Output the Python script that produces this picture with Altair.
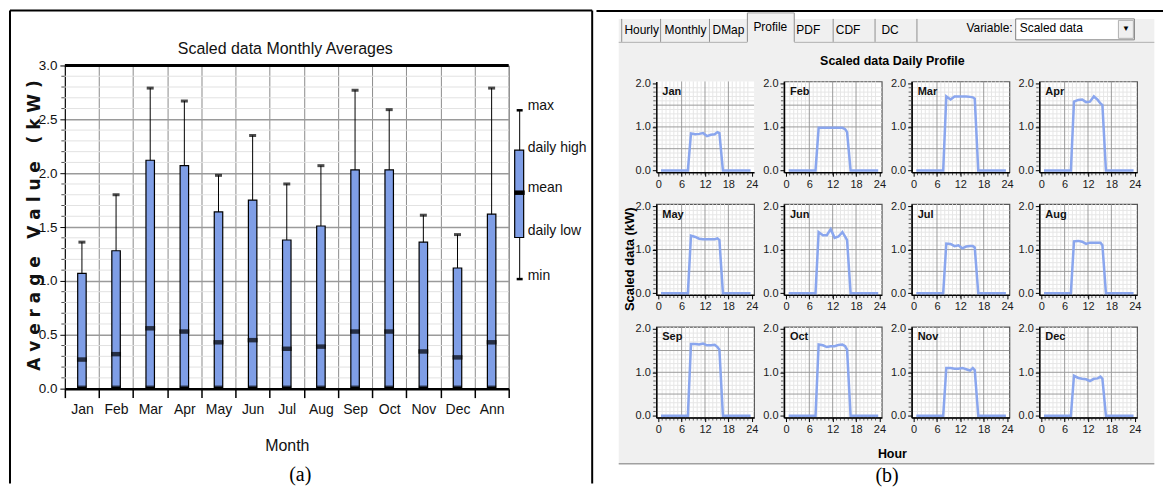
import altair as alt
import pandas as pd

# ---------------- (a) Scaled data Monthly Averages ----------------
months = ["Jan", "Feb", "Mar", "Apr", "May", "Jun", "Jul", "Aug", "Sep", "Oct", "Nov", "Dec", "Ann"]
max_vals = [1.36, 1.80, 2.79, 2.67, 1.98, 2.35, 1.90, 2.07, 2.77, 2.59, 1.61, 1.43, 2.79]
high_vals = [1.07, 1.28, 2.12, 2.07, 1.64, 1.75, 1.38, 1.51, 2.03, 2.03, 1.36, 1.12, 1.62]
mean_vals = [0.27, 0.32, 0.56, 0.53, 0.43, 0.45, 0.37, 0.39, 0.53, 0.53, 0.345, 0.29, 0.43]
low_vals = [0.01] * 13
min_vals = [0.0] * 13

legend_labels = ["max", "daily high", "mean", "daily low", "min"]
legend_label_vals = [2.62, 2.235, 1.865, 1.465, 1.048]
legend_key_vals = [2.584, 2.214, 1.819, 1.403, 1.017]

# ---------------- (b) Scaled data Daily Profile ----------------
profile_months = ["Jan", "Feb", "Mar", "Apr", "May", "Jun", "Jul", "Aug", "Sep", "Oct", "Nov", "Dec"]
profile_hours = [0.7, 7.6, 8.4, 9.5, 10.5, 11.5, 12.5, 13.5, 14.5, 15.2, 15.7, 16.6, 23.7]
profiles = {
    "Jan": [0, 0, 0.85, 0.83, 0.84, 0.86, 0.79, 0.82, 0.83, 0.88, 0.86, 0, 0],
    "Feb": [0, 0, 0.98, 0.98, 0.98, 0.98, 0.98, 0.98, 0.98, 0.95, 0.88, 0, 0],
    "Mar": [0, 0, 1.70, 1.63, 1.70, 1.70, 1.70, 1.70, 1.69, 1.68, 1.65, 0, 0],
    "Apr": [0, 0, 1.58, 1.62, 1.63, 1.57, 1.58, 1.70, 1.62, 1.54, 1.50, 0, 0],
    "May": [0, 0, 1.32, 1.29, 1.25, 1.24, 1.24, 1.24, 1.24, 1.26, 1.22, 0, 0],
    "Jun": [0, 0, 1.40, 1.33, 1.33, 1.47, 1.27, 1.30, 1.40, 1.30, 1.22, 0, 0],
    "Jul": [0, 0, 1.14, 1.13, 1.08, 1.10, 1.03, 1.07, 1.08, 1.08, 1.05, 0, 0],
    "Aug": [0, 0, 1.19, 1.20, 1.18, 1.13, 1.16, 1.16, 1.16, 1.16, 1.10, 0, 0],
    "Sep": [0, 0, 1.65, 1.65, 1.64, 1.66, 1.62, 1.62, 1.63, 1.58, 1.52, 0, 0],
    "Oct": [0, 0, 1.64, 1.62, 1.58, 1.60, 1.60, 1.63, 1.64, 1.60, 1.52, 0, 0],
    "Nov": [0, 0, 1.10, 1.10, 1.08, 1.08, 1.10, 1.07, 1.04, 1.10, 1.05, 0, 0],
    "Dec": [0, 0, 0.92, 0.87, 0.85, 0.84, 0.80, 0.85, 0.86, 0.90, 0.85, 0, 0],
}

tab_labels = ["Hourly", "Monthly", "DMap", "Profile", "PDF", "CDF", "DC"]
variable_label = "Variable:"
variable_value = "Scaled data"

# ---------------- styles ----------------
SANS = "Liberation Sans, Arial, sans-serif"
SERIF = "Liberation Serif, Times New Roman, DejaVu Serif, serif"
BOX_BLUE = "#7f9ee6"
LINE_BLUE = "#8aa6ee"
PANEL_GRAY = "#f0f0f0"
NB = "\u00a0"

one = pd.DataFrame({"k": [0]})


def hrule(x1, x2, y, color="black", w=2.0):
    return alt.Chart(one).mark_rule(color=color, strokeWidth=w).encode(
        x=alt.value(x1), x2=alt.value(x2), y=alt.value(y))


def vrule(x, y1, y2, color="black", w=2.0):
    return alt.Chart(one).mark_rule(color=color, strokeWidth=w).encode(
        x=alt.value(x), y=alt.value(y1), y2=alt.value(y2))


def box(x1, x2, y1, y2, fill, stroke=None, sw=1.0):
    kw = dict(fill=fill, strokeWidth=sw)
    if stroke:
        kw["stroke"] = stroke
    return alt.Chart(one).mark_rect(**kw).encode(
        x=alt.value(x1), x2=alt.value(x2), y=alt.value(y1), y2=alt.value(y2))


def label(x, y, text, font=SANS, size=12, weight="normal", align="center", color="black"):
    return alt.Chart(one).mark_text(text=text, font=font, fontSize=size, fontWeight=weight,
                                    align=align, baseline="middle", color=color).encode(
        x=alt.value(x), y=alt.value(y))


# ================= left chart (a) =================
W, H = 445, 324

df = pd.DataFrame({"month": months, "mx": max_vals, "hi": high_vals, "mean": mean_vals,
                   "lo": low_vals, "mn": min_vals})
yscale = alt.Scale(domain=[0, 3], nice=False, zero=False)
xscale = alt.Scale(type="band", paddingInner=0, paddingOuter=0)
YTITLE = (NB.join("Average") + NB * 3 + NB.join("Value") + NB * 3 + NB.join("(kW)"))

x_axis = alt.Axis(labelAngle=0, tickBand="extent", grid=True, gridColor="#8c8c8c", gridWidth=1,
                  domainColor="black", domainWidth=2.5, tickColor="black", tickWidth=1.5, tickSize=9,
                  labelPadding=5, labelFont=SANS, labelFontSize=14, labelColor="#111",
                  titleFont=SANS, titleFontSize=16, titleFontWeight="normal", titleColor="#111",
                  titleY=57, titleBaseline="middle", labelOverlap=False)
y_axis = alt.Axis(values=[0, 0.5, 1.0, 1.5, 2.0, 2.5, 3.0], format=".1f", grid=True,
                  gridColor="#9a9a9a", gridWidth=1.5, domainColor="black", domainWidth=1,
                  tickColor="black", tickSize=5, labelPadding=3, labelFont=SANS, labelFontSize=13.5,
                  labelColor="#111", titleFont="DejaVu Sans", titleFontSize=17, titleFontWeight="bold",
                  titleColor="#111", titleX=-30, titleY=160, titleAngle=270, titleAlign="center",
                  titleBaseline="middle", labelOverlap=False)

XM = alt.X("month:N", sort=months, scale=xscale, axis=x_axis, title="Month")


def YQ(f):
    return alt.Y(f"{f}:Q", scale=yscale, axis=y_axis, title=YTITLE)


minor_y = [round(v / 10, 1) for v in range(1, 30) if v % 5 != 0]
base = alt.Chart(df)
left_layers = [
    alt.Chart(pd.DataFrame({"g": minor_y})).mark_rule(color="#e2e2e2", strokeWidth=1).encode(y=YQ("g")),
    alt.Chart(pd.DataFrame({"g": minor_y})).mark_tick(color="black", orient="horizontal", size=3,
                                                       thickness=1).encode(y=YQ("g"), x=alt.value(-2)),
    base.mark_rule(color="black", strokeWidth=1).encode(x=XM, y=YQ("mn"), y2="mx:Q"),
    base.mark_tick(color="black", thickness=3, size=7).encode(x=XM, y=YQ("mx")),
    base.mark_bar(size=8.5, color=BOX_BLUE, stroke="black", strokeWidth=1.2).encode(x=XM, y=YQ("lo"), y2="hi:Q"),
    base.mark_tick(color="black", thickness=4.5, size=10).encode(x=XM, y=YQ("mean")),
    base.mark_tick(color="black", thickness=4, size=9).encode(x=XM, y=YQ("lo")),
    alt.Chart(one).mark_rule(color="black", strokeWidth=3).encode(y=alt.datum(3.0)),
]

# legend keys (schematic box) drawn on the same value scale
leg = pd.DataFrame({"lmax": [legend_key_vals[0]], "lhigh": [legend_key_vals[1]],
                    "lmean": [legend_key_vals[2]], "llow": [legend_key_vals[3]],
                    "lmin": [legend_key_vals[4]]})
legb = alt.Chart(leg)
leg_lab = pd.DataFrame({"lab": legend_labels, "pos": legend_label_vals})
left_layers += [
    legb.mark_rule(color="black", strokeWidth=1).encode(x=alt.value(456), y=YQ("lmin"), y2="lmax:Q"),
    legb.mark_rule(color="black", strokeWidth=2.5).encode(x=alt.value(453), x2=alt.value(459), y=YQ("lmax")),
    legb.mark_rule(color="black", strokeWidth=2.5).encode(x=alt.value(453), x2=alt.value(459), y=YQ("lmin")),
    legb.mark_rect(fill=BOX_BLUE, stroke="black", strokeWidth=1.2).encode(
        x=alt.value(451), x2=alt.value(460), y=YQ("llow"), y2="lhigh:Q"),
    legb.mark_rule(color="black", strokeWidth=4.5).encode(x=alt.value(450.5), x2=alt.value(461), y=YQ("lmean")),
    alt.Chart(leg_lab).mark_text(align="left", baseline="middle", font=SANS, fontSize=14, color="#111").encode(
        x=alt.value(464), y=YQ("pos"), text="lab:N"),
]

# title, caption and table borders
left_layers += [
    label(221, -17, "Scaled data Monthly Averages", size=16, color="#111"),
    label(236, 411, "(a)", font=SERIF, size=20),
    vrule(-55, -55, 419),
    hrule(-55, 528.7, -55),
    vrule(528.7, -55, 419),
]

left = alt.layer(*left_layers).properties(
    width=W, height=H,
    view=alt.ViewBackground(fill="white", stroke="#7a7a7a", strokeWidth=1))

# ================= right panels (b) =================
PW, PH = 98, 91
JX, JY = 655.7, 79.7  # page position of Jan plot origin


def R(px, py):
    return px - JX, py - JY


hx = alt.Scale(domain=[-0.5, 24.6], nice=False, zero=False)
hy = alt.Scale(domain=[-0.04, 2.045], nice=False, zero=False)
hour_minor = [h for h in range(1, 24) if h % 6 != 0]
val_minor = [round(v / 10, 1) for v in range(1, 20) if v % 5 != 0]
hour_major = [6, 12, 18]
val_major = [0.5, 1.0, 1.5]
hour_ticks = list(range(1, 24))
val_ticks = [round(v / 10, 1) for v in range(1, 20)]


def jan_decor():
    d = []
    x1, y1 = R(618, 17)
    x2, y2 = R(1155, 463)
    d.append(box(x1, x2, y1, y2, PANEL_GRAY))
    a, b = R(747, 11)
    c, e = R(794, 41)
    d.append(box(a, c, b, e, PANEL_GRAY))
    d.append(box(0, PW, 0, PH, "white"))
    # table top border
    tx1, ty = R(594.7, 9)
    tx2, _ = R(1163.7, 9)
    d.append(hrule(tx1 + 1, tx2, ty, "black", 2))
    # panel bottom edge
    bx1, by = R(618, 463)
    bx2, _ = R(1155, 463)
    d.append(hrule(bx1, bx2, by, "#a0a0a0", 1.5))
    # tab strip
    lx1, ly = R(618, 40.5)
    lx2, _ = R(747, 40.5)
    lx3, _ = R(794, 40.5)
    lx4, _ = R(1155, 40.5)
    d.append(hrule(lx1, lx2, ly, "#b0b0b0", 1))
    d.append(hrule(lx3, lx4, ly, "#b0b0b0", 1))
    for sx in [621, 660, 709, 833, 875, 917]:
        sxx, sy1 = R(sx, 17)
        _, sy2 = R(sx, 40)
        d.append(vrule(sxx, sy1, sy2, "#8f8f8f", 1))
    for sx in [747, 794]:
        sxx, sy1 = R(sx, 11)
        _, sy2 = R(sx, 40)
        d.append(vrule(sxx, sy1, sy2, "#8f8f8f", 1))
    px1, py1 = R(747, 11)
    px2, _ = R(794, 11)
    d.append(hrule(px1, px2, py1, "#a0a0a0", 1))
    centers = [641, 685, 728, 770, 808, 848, 890]
    for t, cx in zip(tab_labels, centers):
        cy = 25 if t == "Profile" else 28
        xx, yy = R(cx, cy)
        d.append(label(xx, yy, t, size=12))
    vx, vy = R(1013, 26)
    d.append(label(vx, vy, variable_label, size=12, align="right"))
    dx1, dy1 = R(1016, 17)
    dx2, dy2 = R(1135, 38)
    d.append(box(dx1, dx2, dy1, dy2, "white", "#7f7f7f", 1))
    ax1, ay1 = R(1119, 18.5)
    ax2, ay2 = R(1134, 36.5)
    d.append(box(ax1, ax2, ay1, ay2, PANEL_GRAY, "#b0b0b0", 1))
    wx, wy = R(1126.5, 27.5)
    d.append(label(wx, wy, "\u25BC", size=8))
    sx, sy = R(1020, 26)
    d.append(label(sx, sy, variable_value, size=12, align="left"))
    # panel title, shared x title and caption
    tx, ty2 = R(892.4, 59)
    d.append(label(tx, ty2, "Scaled data Daily Profile", size=12.5, weight="bold"))
    hx_, hy_ = R(892.4, 453)
    d.append(label(hx_, hy_, "Hour", size=12.5, weight="bold"))
    cx_, cy_ = R(887, 475)
    d.append(label(cx_, cy_, "(b)", font=SERIF, size=20))
    return d


def make_panel(m, ytitle=None):
    xa = alt.Axis(values=[0, 6, 12, 18, 24], grid=False, labelFont=SANS, labelFontSize=11,
                  labelColor="#1a1a1a", tickSize=4, tickColor="black", tickWidth=1, domainColor="black",
                  domainWidth=1.5, labelPadding=2, labelFlush=False, labelOverlap=False, zindex=1)
    ya_kw = dict(values=[0, 1, 2], format=".1f", grid=False, labelFont=SANS, labelFontSize=11,
                 labelColor="#1a1a1a", tickSize=4, tickColor="black", tickWidth=1, domainColor="black",
                 domainWidth=1.5, labelPadding=2, labelOverlap=False, zindex=1)
    if ytitle:
        ya_kw.update(titleFont=SANS, titleFontSize=13, titleFontWeight="bold", titleColor="black",
                     titleX=-27, titleY=54.8, titleAngle=270, titleAlign="center",
                     titleBaseline="middle")
    ya = alt.Axis(**ya_kw)

    def HX(f):
        return alt.X(f"{f}:Q", scale=hx, axis=xa, title=None)

    def HY(f):
        return alt.Y(f"{f}:Q", scale=hy, axis=ya, title=ytitle if ytitle else None)

    pdf = pd.DataFrame({"hour": profile_hours, "kw": profiles[m]})
    layers = []
    if m == "Jan":
        layers += jan_decor()
    layers += [
        alt.Chart(pd.DataFrame({"h": hour_minor})).mark_rule(color="#e6e6e6", strokeWidth=1).encode(x=HX("h")),
        alt.Chart(pd.DataFrame({"v": val_minor})).mark_rule(color="#e6e6e6", strokeWidth=1).encode(y=HY("v")),
        alt.Chart(pd.DataFrame({"h": hour_major})).mark_rule(color="#9c9c9c", strokeWidth=1).encode(x=HX("h")),
        alt.Chart(pd.DataFrame({"v": val_major})).mark_rule(color="#9c9c9c", strokeWidth=1).encode(y=HY("v")),
        alt.Chart(pd.DataFrame({"h": hour_ticks})).mark_tick(color="#222", orient="vertical", size=2.5,
                                                            thickness=1).encode(x=HX("h"), y=alt.value(PH + 1.8)),
        alt.Chart(pd.DataFrame({"v": val_ticks})).mark_tick(color="#222", orient="horizontal", size=2.5,
                                                           thickness=1).encode(y=HY("v"), x=alt.value(-1.8)),
        alt.Chart(pdf).mark_line(color=LINE_BLUE, strokeWidth=2.5).encode(x=HX("hour"), y=HY("kw")),
        label(6, 10.5, m, size=11, weight="bold", align="left", color="#111"),
    ]
    return alt.layer(*layers).properties(
        width=PW, height=PH,
        view=alt.ViewBackground(fill="white", stroke="#555555", strokeWidth=1.2))


panels = [make_panel(m, "Scaled data (kW)" if m == "May" else None) for m in profile_months]
grid = alt.concat(*panels, columns=4, spacing=alt.RowColnumber(row=32, column=30), bounds="flush")

# small invisible spacer so that the panel grid starts 15.7 px lower than the left plot
spacer = alt.Chart(one).mark_point(opacity=0, size=1).encode(
    x=alt.value(0), y=alt.value(0)).properties(
    width=1, height=15.7, view=alt.ViewBackground(strokeWidth=0))
right = alt.vconcat(spacer, grid, spacing=0, bounds="flush")

chart = alt.hconcat(left, right, spacing=0).properties(padding=0, background="white")
chart.save("out.html", embed_options={"renderer": "svg", "actions": False})
